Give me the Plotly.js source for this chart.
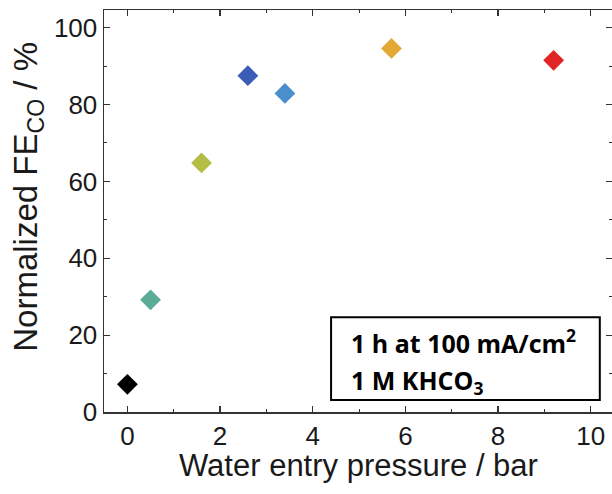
<!DOCTYPE html>
<html>
<head>
<meta charset="utf-8">
<script src="https://cdn.plot.ly/plotly-3.0.1.min.js"></script>
<style>html,body{margin:0;padding:0;background:#fff;}#chart{width:612px;height:494px;}</style>
</head>
<body>
<div id="chart"></div>
<script>
// Data
const pressure = [0, 0.5, 1.6, 2.6, 3.4, 5.7, 9.2];
const feCO = [7.2, 29.2, 64.8, 87.5, 82.9, 94.6, 91.5];
const pointColors = ['#000000', '#5aab98', '#b4bd45', '#3d5cb8', '#4a8ecc', '#e3a935', '#e02525'];
const xTicks = [0, 2, 4, 6, 8, 10];
const yTicks = [0, 20, 40, 60, 80, 100];
const xTitle = 'Water entry pressure / bar';
const yTitle = 'Normalized FE<sub>CO</sub> / %';
const boxLines = ['<b>1 h at 100 mA/cm<sup>2</sup></b>', '<b>1 M KHCO<sub>3</sub></b>'];

const sans = 'Liberation Sans, Arial, sans-serif';
const axisFont = {family: sans, size: 26, color: '#1a1a1a'};

const trace = {
  x: pressure,
  y: feCO,
  type: 'scatter',
  mode: 'markers',
  marker: {symbol: 'diamond', size: 16, color: pointColors, line: {width: 0}},
  cliponaxis: false,
  hoverinfo: 'x+y'
};

const layout = {
  width: 612, height: 494,
  margin: {l: 104, r: 0, t: 10, b: 82},
  paper_bgcolor: '#ffffff', plot_bgcolor: '#ffffff',
  showlegend: false,
  xaxis: {
    range: [-0.505, 10.46],
    tickvals: xTicks, ticktext: xTicks.map(String),
    ticks: 'inside', ticklen: 6, tickwidth: 1.2, tickcolor: '#333',
    minor: {dtick: 1, tick0: 1, ticks: 'inside', ticklen: 3, tickwidth: 1, tickcolor: '#333'},
    showline: true, linecolor: '#333', linewidth: 1.5, mirror: 'ticks',
    showgrid: false, zeroline: false,
    tickfont: axisFont
  },
  yaxis: {
    range: [0, 104.6],
    tickvals: yTicks, ticktext: yTicks.map(String),
    ticks: 'inside', ticklen: 6, tickwidth: 1.2, tickcolor: '#333',
    minor: {dtick: 10, tick0: 10, ticks: 'inside', ticklen: 3, tickwidth: 1, tickcolor: '#333'},
    showline: true, linecolor: '#333', linewidth: 1.5, mirror: 'ticks',
    showgrid: false, zeroline: false,
    tickfont: axisFont
  },
  shapes: [{
    type: 'rect', xref: 'paper', yref: 'paper',
    x0: 0.447, x1: 0.976, y0: 0.030, y1: 0.236,
    line: {color: '#000', width: 2}, fillcolor: '#ffffff', layer: 'above'
  }],
  annotations: [
    {
      xref: 'paper', yref: 'paper', x: 0.5, y: -0.134, xanchor: 'center', yanchor: 'middle',
      showarrow: false, text: xTitle,
      font: {family: sans, size: 31, color: '#1a1a1a'}
    },
    {
      xref: 'paper', yref: 'paper', x: -0.15, y: 0.535, xanchor: 'center', yanchor: 'middle',
      showarrow: false, textangle: -90, text: yTitle,
      font: {family: sans, size: 33, color: '#1a1a1a'}
    },
    {
      xref: 'paper', yref: 'paper', x: 0.482, y: 0.175, xanchor: 'left', yanchor: 'middle',
      align: 'left', showarrow: false, text: boxLines[0],
      font: {family: 'Open Sans, sans-serif', size: 25, color: '#000'}
    },
    {
      xref: 'paper', yref: 'paper', x: 0.482, y: 0.077, xanchor: 'left', yanchor: 'middle',
      align: 'left', showarrow: false, text: boxLines[1],
      font: {family: 'Open Sans, sans-serif', size: 25, color: '#000'}
    }
  ]
};

Plotly.newPlot('chart', [trace], layout, {displayModeBar: false, staticPlot: true});
</script>
</body>
</html>
